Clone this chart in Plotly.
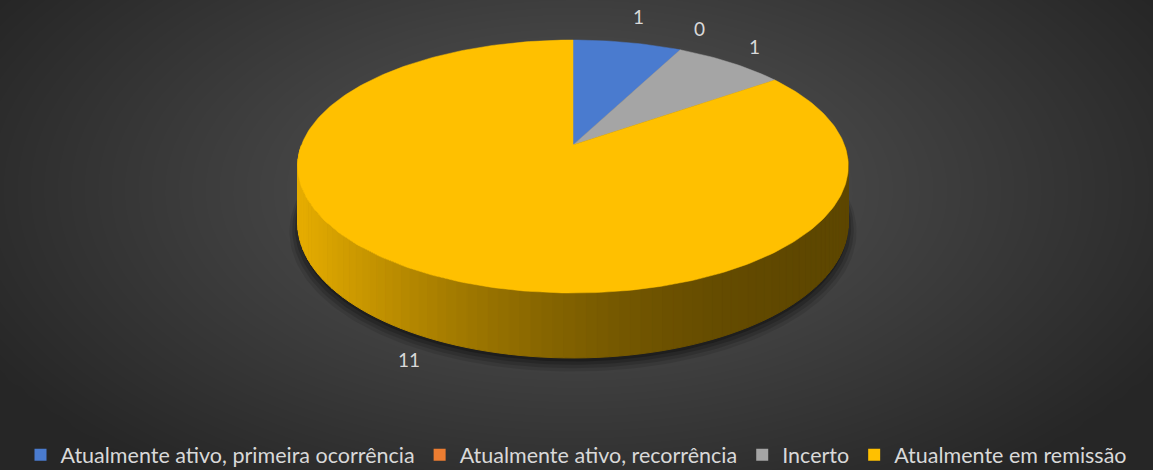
import numpy as np
import plotly.graph_objects as go

# Survey answers per status
categories = [
    "Atualmente ativo, primeira ocorrência",
    "Atualmente ativo, recorrência",
    "Incerto",
    "Atualmente em remissão",
]
values = [1, 0, 1, 11]
colors = ["#4a7bcf", "#ed7d31", "#a5a5a5", "#ffc000"]

W, H = 1153, 470

# 3D pie geometry (pixel space), with a simple perspective factor
CX, CY = 573, 145
RX, RY = 271.5, 126.5
PERSP = 0.17
THICK = 55.5
START = 90.0  # first slice begins at 12 o'clock, going clockwise


def rim(theta_deg, drop=0.0):
    t = np.radians(theta_deg)
    u, v = np.cos(t), np.sin(t)
    k = 1 - PERSP * v
    return CX + RX * u * k, CY - RY * v * k + drop * k


def rgb(c, f=1.0):
    c = c.lstrip("#")
    r, g, b = (int(c[i:i + 2], 16) for i in (0, 2, 4))
    return f"rgb({int(r * f)},{int(g * f)},{int(b * f)})"


fig = go.Figure()

# radial background
gx = np.linspace(0, W, 60)
gy = np.linspace(0, H, 30)
XX, YY = np.meshgrid(gx, gy)
dist = np.sqrt(((XX - 576) / 620) ** 2 + ((YY - 190) / 330) ** 2)
gray = np.clip(88 - 46 * dist, 38, 255)
fig.add_trace(go.Heatmap(
    x=gx, y=gy, z=gray, zmin=0, zmax=255, zsmooth="best",
    colorscale=[[0, "rgb(0,0,0)"], [1, "rgb(255,255,255)"]],
    showscale=False, hoverinfo="skip",
))

total = sum(values)
angles = [START]
for v in values:
    angles.append(angles[-1] - 360.0 * v / total)

# soft shadow beneath the disc
ring = np.linspace(0, 360, 241)
for i, (grow, opa) in enumerate([(1.03, 0.10), (1.02, 0.14), (1.01, 0.18), (1.0, 0.25)]):
    xs, ys = [], []
    for a in ring:
        x, y = rim(a, THICK + 6 - i)
        xs.append(CX + (x - CX) * grow)
        ys.append(CY + (y - CY) * grow)
    fig.add_trace(go.Scatter(
        x=xs, y=ys, fill="toself", mode="lines", line=dict(width=0),
        fillcolor=f"rgba(0,0,0,{opa})", hoverinfo="skip", showlegend=False,
    ))

# side wall (front half only), lit from the left
for i, v in enumerate(values):
    if v == 0:
        continue
    a0, a1 = angles[i], angles[i + 1]
    n = max(2, int(abs(a1 - a0) / 2))
    th = np.linspace(a0, a1, n + 1)
    for j in range(n):
        ta, tb = th[j], th[j + 1]
        if np.sin(np.radians((ta + tb) / 2)) > 0:
            continue
        xa, ya = rim(ta)
        xb, yb = rim(tb)
        xb2, yb2 = rim(tb, THICK)
        xa2, ya2 = rim(ta, THICK)
        s = np.clip(((xa + xb) / 2 - (CX - RX)) / (2 * RX), 0, 1)
        shade = 0.37 + 0.53 * (1 - s) ** 2
        col = rgb(colors[i], shade)
        fig.add_trace(go.Scatter(
            x=[xa, xb, xb2, xa2, xa], y=[ya, yb, yb2, ya2, ya],
            fill="toself", mode="lines", line=dict(width=1, color=col),
            fillcolor=col, hoverinfo="skip", showlegend=False,
        ))

# top face slices
for i, v in enumerate(values):
    if v == 0:
        continue
    th = np.linspace(angles[i], angles[i + 1], max(8, int(abs(angles[i + 1] - angles[i]))))
    pts = [rim(a) for a in th]
    xs = [CX] + [p[0] for p in pts] + [CX]
    ys = [CY] + [p[1] for p in pts] + [CY]
    fig.add_trace(go.Scatter(
        x=xs, y=ys, fill="toself", mode="lines",
        line=dict(width=0.5, color=colors[i]), fillcolor=colors[i],
        hoverinfo="skip", showlegend=False,
    ))

# value labels just outside each slice
annotations = []
for i, v in enumerate(values):
    mid = (angles[i] + angles[i + 1]) / 2
    t = np.radians(mid)
    u, s = np.cos(t), np.sin(t)
    x, y = rim(mid, THICK if s < 0 else 0)
    dx, dy = 1.6 * u, -s
    norm = np.hypot(dx, dy)
    annotations.append(dict(
        x=x + 30 * dx / norm, y=y + 28 * dy / norm, text=str(v),
        showarrow=False, xanchor="center", yanchor="middle",
        font=dict(family="Lato, sans-serif", size=19, color="#d9d9d9"),
    ))

# legend entries
for name, c in zip(categories, colors):
    fig.add_trace(go.Scatter(
        x=[None], y=[None], mode="markers", name=name,
        marker=dict(symbol="square", size=12, color=c),
    ))

fig.update_layout(
    width=W, height=H,
    margin=dict(l=0, r=0, t=0, b=0, autoexpand=False),
    paper_bgcolor="#2e2e2e", plot_bgcolor="#3a3a3a",
    xaxis=dict(range=[0, W], visible=False, fixedrange=True),
    yaxis=dict(range=[H, 0], visible=False, fixedrange=True),
    annotations=annotations,
    showlegend=True,
    legend=dict(
        orientation="h", x=0.5, xanchor="center", y=-0.011, yanchor="bottom",
        font=dict(family="Lato, sans-serif", size=21.5, color="#d9d9d9"),
        bgcolor="rgba(0,0,0,0)", itemwidth=30, traceorder="normal",
    ),
)

fig.write_html("out.html")
